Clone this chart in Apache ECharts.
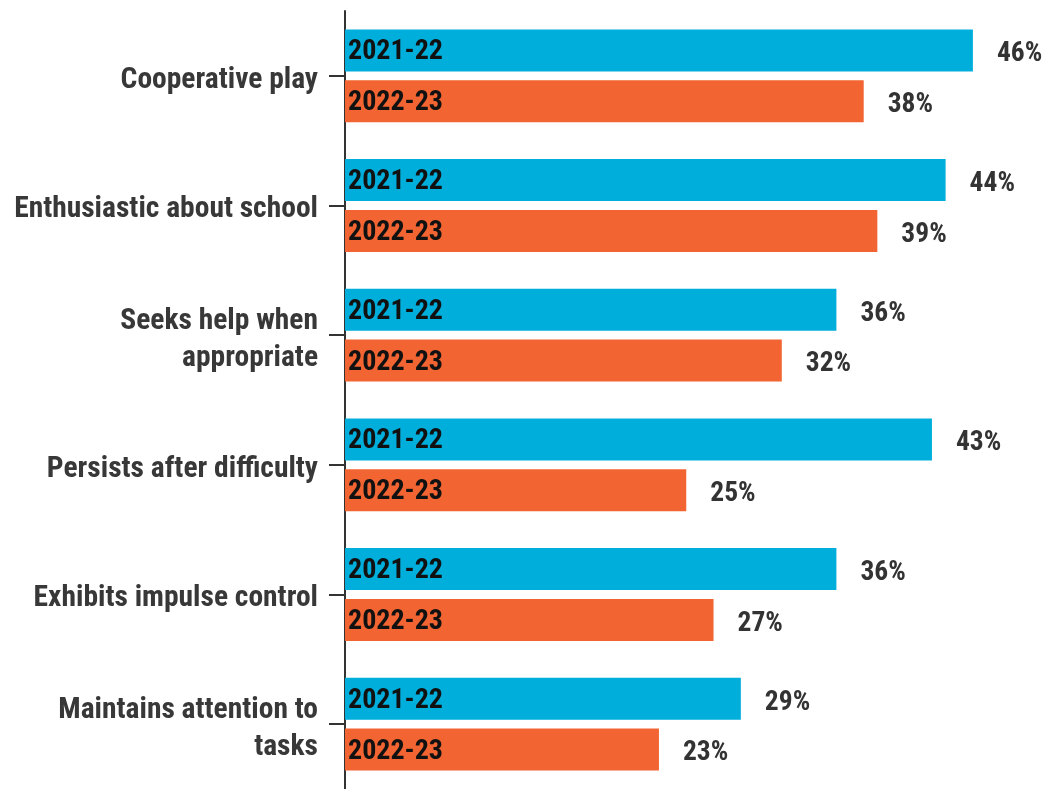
<!DOCTYPE html>
<html>
<head>
<meta charset="utf-8">
<script src="https://cdn.jsdelivr.net/npm/echarts@6/dist/echarts.min.js"></script>
<style>
  html, body { margin: 0; padding: 0; background: #ffffff; }
  #chart { width: 1044px; height: 789px; }
</style>
</head>
<body>
<div id="chart"></div>
<script>
// Share of children showing each behaviour, by school year (%)
const categories = [
  'Cooperative play',
  'Enthusiastic about school',
  'Seeks help when\nappropriate',
  'Persists after difficulty',
  'Exhibits impulse control',
  'Maintains attention to\ntasks'
];
const yearNames = ['2021-22', '2022-23'];
const values2021 = [46, 44, 36, 43, 36, 29];
const values2022 = [38, 39, 32, 25, 27, 23];

const FONT = '"Roboto Condensed", "Liberation Sans Narrow", "DejaVu Sans Condensed", sans-serif';
const BLUE = '#00aedb';
const ORANGE = '#f26532';
const BAR_W = 42;
const BAR_GAP = '21%';

const chart = echarts.init(document.getElementById('chart'), null, { renderer: 'canvas' });

const labelText = {
  fontFamily: FONT,
  fontWeight: 'bold',
  fontSize: 29.5,
  lineHeight: 37,
  color: '#383838',
  align: 'right'
};

function catAxis(show) {
  return {
    type: 'category',
    data: categories,
    inverse: true,
    show: show,
    axisLine: { show: show, lineStyle: { color: '#333333', width: 2 } },
    axisTick: { show: show, alignWithLabel: true, length: 16, lineStyle: { color: '#333333', width: 2 } },
    axisLabel: {
      show: show,
      margin: 27,
      align: 'right',
      // a short spacer line above the name nudges the block slightly downward
      formatter: v => '{sp| }\n' + v.split('\n').map(l => '{t|' + l + '}').join('\n'),
      rich: {
        sp: { fontSize: 4, lineHeight: 9, align: 'right' },
        t: labelText
      }
    }
  };
}

// Coloured bars with the year written inside
function yearSeries(name, data, color) {
  return {
    name: name,
    type: 'bar',
    yAxisIndex: 0,
    data: data,
    barWidth: BAR_W,
    barGap: BAR_GAP,
    itemStyle: { color: color },
    label: {
      show: true,
      position: 'insideLeft',
      distance: 3,
      offset: [0, 2],
      formatter: name,
      fontFamily: FONT,
      fontWeight: 'bold',
      fontSize: 28,
      color: '#111111'
    },
    silent: true
  };
}

// Transparent twins carrying the percentage at the end of each bar
function valueSeries(name, data) {
  return {
    name: name + ' value',
    type: 'bar',
    yAxisIndex: 1,
    data: data,
    barWidth: BAR_W,
    barGap: BAR_GAP,
    itemStyle: { color: 'rgba(0,0,0,0)' },
    label: {
      show: true,
      position: 'right',
      distance: 24,
      offset: [0, 4],
      formatter: p => p.value + '%',
      fontFamily: FONT,
      fontWeight: 'bold',
      fontSize: 27.5,
      color: '#333333'
    },
    silent: true
  };
}

chart.setOption({
  animation: false,
  backgroundColor: '#ffffff',
  grid: { left: 345, right: 16.5, top: 11, height: 781, containLabel: false },
  xAxis: { type: 'value', min: 0, max: 50, show: false },
  yAxis: [catAxis(true), catAxis(false)],
  series: [
    yearSeries(yearNames[0], values2021, BLUE),
    yearSeries(yearNames[1], values2022, ORANGE),
    valueSeries(yearNames[0], values2021),
    valueSeries(yearNames[1], values2022)
  ]
});
</script>
</body>
</html>
